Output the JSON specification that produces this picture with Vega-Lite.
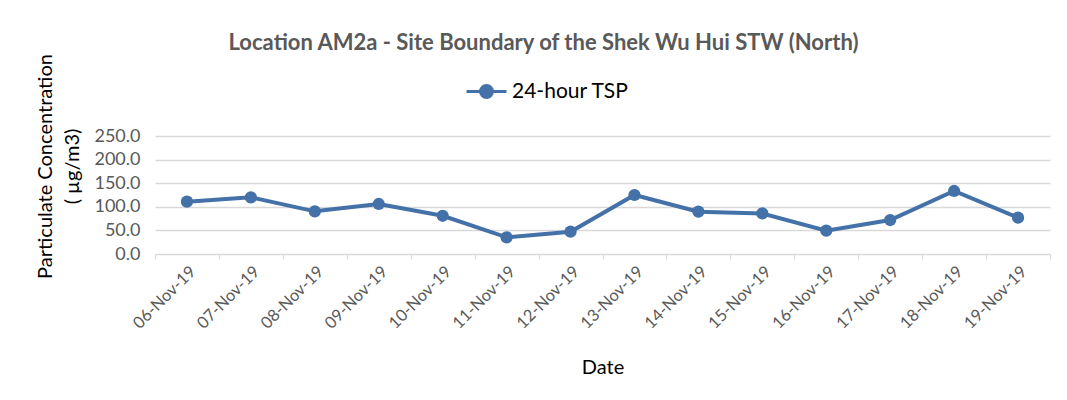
{
  "$schema": "https://vega.github.io/schema/vega-lite/v6.json",
  "autosize": "none",
  "width": 895,
  "height": 118,
  "padding": {"left": 155, "top": 136, "right": 17, "bottom": 146},
  "background": "white",
  "title": {
    "text": "Location AM2a - Site Boundary of the Shek Wu Hui STW (North)",
    "font": "Lato",
    "fontSize": 22,
    "fontWeight": "bold",
    "color": "#595959",
    "anchor": "middle",
    "dx": -59,
    "offset": -1
  },
  "data": {
    "values": [
      {"Date": "06-Nov-19", "Series": "24-hour TSP", "TSP": 110.9},
      {"Date": "07-Nov-19", "Series": "24-hour TSP", "TSP": 120.0},
      {"Date": "08-Nov-19", "Series": "24-hour TSP", "TSP": 90.4},
      {"Date": "09-Nov-19", "Series": "24-hour TSP", "TSP": 106.0},
      {"Date": "10-Nov-19", "Series": "24-hour TSP", "TSP": 81.0},
      {"Date": "11-Nov-19", "Series": "24-hour TSP", "TSP": 35.3},
      {"Date": "12-Nov-19", "Series": "24-hour TSP", "TSP": 47.3},
      {"Date": "13-Nov-19", "Series": "24-hour TSP", "TSP": 125.0},
      {"Date": "14-Nov-19", "Series": "24-hour TSP", "TSP": 89.7},
      {"Date": "15-Nov-19", "Series": "24-hour TSP", "TSP": 86.0},
      {"Date": "16-Nov-19", "Series": "24-hour TSP", "TSP": 49.4},
      {"Date": "17-Nov-19", "Series": "24-hour TSP", "TSP": 72.0},
      {"Date": "18-Nov-19", "Series": "24-hour TSP", "TSP": 133.5},
      {"Date": "19-Nov-19", "Series": "24-hour TSP", "TSP": 77.0}
    ]
  },
  "mark": {"type": "line", "strokeWidth": 4, "point": {"size": 150, "filled": true, "opacity": 1}},
  "encoding": {
    "x": {
      "field": "Date",
      "type": "nominal",
      "sort": null,
      "bandPosition": 0.5,
      "scale": {"type": "band", "paddingInner": 0, "paddingOuter": 0},
      "axis": {
        "title": "Date",
        "titleFont": "Lato",
        "titleFontSize": 20,
        "titleFontWeight": "normal",
        "titleColor": "#000000",
        "titlePadding": 26,
        "labelAngle": -45,
        "labelFont": "Lato",
        "labelFontSize": 16.5,
        "labelColor": "#595959",
        "labelPadding": 4,
        "tickBand": "extent",
        "tickColor": "#d9d9d9",
        "tickSize": 5,
        "domainColor": "#d9d9d9",
        "domainWidth": 1,
        "grid": false
      }
    },
    "y": {
      "field": "TSP",
      "type": "quantitative",
      "scale": {"domain": [0, 250]},
      "axis": {
        "title": ["Particulate Concentration", "( µg/m3)"],
        "titleFont": "Lato",
        "titleFontSize": 20,
        "titleFontWeight": "normal",
        "titleColor": "#000000",
        "titleLineHeight": 27,
        "titleAngle": -90,
        "titleX": -100,
        "titleY": 30,
        "titleAlign": "center",
        "titleBaseline": "bottom",
        "values": [0, 50, 100, 150, 200, 250],
        "format": ".1f",
        "labelFont": "Lato",
        "labelFontSize": 18,
        "labelColor": "#595959",
        "labelPadding": 15,
        "domain": false,
        "ticks": false,
        "gridColor": "#d9d9d9",
        "gridWidth": 1.5
      }
    },
    "color": {
      "field": "Series",
      "type": "nominal",
      "scale": {"range": ["#4472A8"]},
      "legend": {
        "title": null,
        "orient": "none",
        "legendX": 310,
        "legendY": -66,
        "symbolType": "M-1,0H1M0.3,0A0.3,0.3,0,1,1,-0.3,0A0.3,0.3,0,1,1,0.3,0Z",
        "symbolSize": 1600,
        "symbolStrokeWidth": 3,
        "symbolStrokeColor": "#4472A8",
        "symbolFillColor": "#4472A8",
        "labelFont": "Lato",
        "labelFontSize": 21,
        "labelColor": "#000000",
        "labelOffset": 4
      }
    }
  },
  "config": {"view": {"stroke": null}}
}
